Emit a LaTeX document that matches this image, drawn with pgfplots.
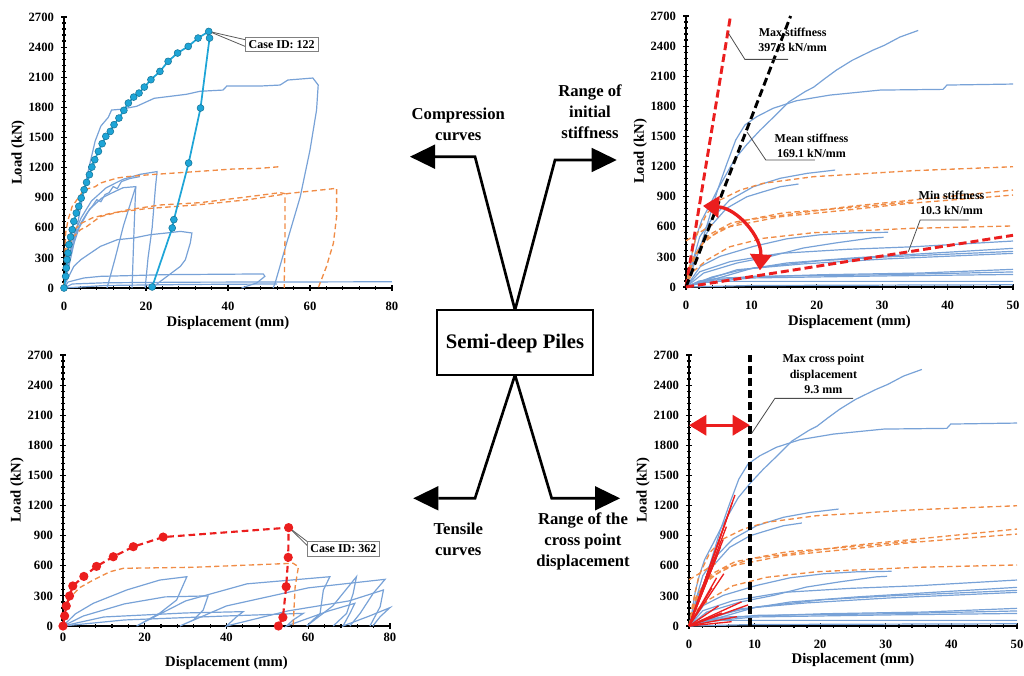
\documentclass[border=0pt]{standalone}
\usepackage{pgfplots}
\pgfplotsset{compat=1.18}
\usepackage{fontspec}
\setmainfont{Liberation Serif}
\usetikzlibrary{arrows.meta}
\definecolor{blc}{RGB}{120,162,215}
\definecolor{orc}{RGB}{240,140,70}
\definecolor{cyc}{RGB}{30,165,215}
\definecolor{rdc}{RGB}{235,30,30}
\tikzset{ann/.style={font=\bfseries\fontsize{9}{11.5}\selectfont, align=center}}
\pgfplotsset{
 myax/.style={scale only axis, height=203.25pt, ymin=0, ymax=2700, ytick={0,300,...,2700}, xmin=0,
   axis x line*=bottom, axis y line*=left, axis line style={line width=1.5pt},
   tick style={black,line width=0.9pt}, major tick length=4pt, minor tick length=3pt, tick align=center,
   minor x tick num=4, minor y tick num=4,
   ticklabel style={font=\bfseries\fontsize{9.5}{10}\selectfont},
   /pgf/number format/assume math mode=true, /pgf/number format/1000 sep={},
   xlabel={Displacement (mm)}, ylabel={Load (kN)},
   label style={font=\bfseries\fontsize{11}{12}\selectfont},
   ylabel style={at={(axis description cs:-0.14,0.5)},anchor=center},
   yticklabel style={xshift=-2pt},
   clip=false},
 bls/.style={color=blc, line width=0.9pt},
 ods/.style={color=orc, line width=1pt, dash pattern=on 4pt off 2.5pt},
}
\newcommand{\compcurves}{%
\addplot[bls] coordinates {(0,0)(0.4,116)(0.97,349)(1.6,508)(2.4,664)(3.6,813)(4.9,979)(6.2,1129)(7.5,1278)(9.3,1420)(11.3,1560)(13.4,1693)(15.7,1843)(18.3,1950)(19.5,1990)(21.2,2075)(23.0,2161)(25.4,2258)(28.6,2360)(30.3,2407)(32.7,2490)(35.5,2556)};
\addplot[bls] coordinates {(0,0)(1,180)(2.3,420)(3.6,700)(4.8,960)(6.2,1220)(7.6,1464)(9,1614)(10.8,1696)(13.3,1780)(16.9,1856)(22,1912)(29.7,1962)(39.3,1969)(39.9,2012)(50,2022)};
\addplot[bls] coordinates {(0,0)(1,250)(2.1,501)(4.2,700)(6.7,867)(10.3,999)(14.4,1083)(18.5,1132)(22.8,1165)};
\addplot[bls] coordinates {(0,0)(1.5,330)(3.7,601)(6.2,784)(9.3,899)(11.8,949)(14.4,999)(17.2,1026)};
\addplot[bls] coordinates {(0,0)(2.2,205)(5.2,305)(10.3,404)(15.4,480)(20.5,520)(25.6,540)(30.9,545)};
\addplot[bls] coordinates {(0,0)(2.7,139)(7.8,239)(12.9,305)(17.9,388)(23,440)(28.6,490)(30.2,495)};
\addplot[bls] coordinates {(0,0)(2.1,152)(6.7,252)(14.4,335)(24.6,375)(34.8,401)(50,458)};
\addplot[bls] coordinates {(0,0)(4,100)(7.8,160)(15.4,239)(25.6,290)(35.8,330)(50,385)};
\addplot[bls] coordinates {(0,0)(5,90)(10.3,190)(20.5,262)(30.7,300)(50,355)};
\addplot[bls] coordinates {(0,0)(3,70)(7.8,172)(17.9,230)(30.7,280)(50,335)};
\addplot[bls] coordinates {(0,0)(2,60)(5.2,89)(20.5,122)(35.8,139)(50,176)};
\addplot[bls] coordinates {(0,0)(3,60)(10.3,106)(30.7,122)(50,150)};
\addplot[bls] coordinates {(0,0)(2,40)(10,90)(30,110)(50,125)};
\addplot[bls] coordinates {(0,0)(2,40)(5,56)(50,56)};
\addplot[bls] coordinates {(0,0)(10,15)(50,22)};
\addplot[ods] coordinates {(0,0)(0.5,200)(1.5,500)(3.2,734)(5.2,867)(8.3,966)(11.8,1033)(19.5,1099)(34.8,1159)(50,1198)};
\addplot[ods] coordinates {(0,0)(1,250)(2.5,430)(5.2,568)(9.3,667)(16.9,734)(24.6,800)(34.8,867)(43,920)(50,966)};
\addplot[ods] coordinates {(0,0)(1,280)(3,480)(6.7,601)(14.4,700)(24.6,767)(34.3,834)(50,916)};
\addplot[ods] coordinates {(0,0)(1.2,300)(3.5,520)(7,640)(15,740)(25,790)(35,850)};
\addplot[ods] coordinates {(0,0)(1,150)(3.2,269)(6.7,401)(11.8,485)(19.5,541)(34.8,585)(50,608)};
\addplot[ods] coordinates {(0,460)(2,540)(4.5,640)};
}
\begin{document}
\begin{tikzpicture}[x=0.75pt,y=0.75pt]
\path[use as bounding box] (0,0) rectangle (1024,675);

% ---------- top left: compression curves
\begin{axis}[myax, at={(48pt,290.25pt)}, anchor=south west, width=246pt, xmax=80, xtick={0,20,...,80},
  xticklabel style={yshift=-5pt}, xlabel style={at={(axis description cs:0.5,-0.13)},anchor=center}]
\addplot[bls] coordinates {(0,0)(1,180)(2.3,420)(3.6,700)(4.8,960)(6.2,1220)(7.6,1464)(9,1614)(10.8,1700)(11.6,1773)(13.7,1780)(17.7,1810)(22,1890)(29.9,1930)(33.2,1960)(38.8,1972)(39.7,2012)(47.8,2012)(52.7,2022)(54.6,2072)(60.7,2092)(62,2022)(61.6,1773)(60,1374)(57.6,906)(54.3,448)(51.5,50)(51,0)};
\addplot[bls] coordinates {(0,0)(1,60)(4.9,100)(8.9,116)(25,133)(48.6,140)(49,116)(47,50)(43.3,0)};
\addplot[bls] coordinates {(0,0)(2,40)(10,52)(30,58)(80,62)};
\addplot[bls] coordinates {(0,0)(10,25)(30,35)(52,40)};
\addplot[bls] coordinates {(0,0)(0.5,60)(2.4,216)(4.1,282)(6.5,349)(8.9,415)(13,481)(17,498)(21,531)(25,548)(28.4,564)(31.2,548)(30.8,448)(29.6,282)(28.4,216)(23.5,66)(21.5,0)};
\addplot[bls] coordinates {(0,0)(1,250)(2.1,501)(4.2,700)(6.7,867)(10.3,999)(14.4,1083)(18.5,1132)(22.7,1160)(22.3,1000)(21.5,600)(20.5,300)(19.8,0)};
\addplot[bls] coordinates {(0,0)(1.5,330)(3.7,601)(6.2,784)(9.3,899)(11.8,949)(14.4,999)(17.5,1010)(17.1,600)(16.6,0)};
\addplot[bls] coordinates {(10.5,0)(12.5,300)(14.5,620)(17.5,1010)};
\addplot[bls] coordinates {(0,0)(1,280)(2.5,500)(4,640)(5.5,740)(7,820)(8,880)(9,860)(10,930)(11,950)(12,1010)(13,990)(14,1060)(16,1090)(18.5,1110)};
\addplot[ods] coordinates {(0,0)(0.2,300)(0.4,548)(1,680)(2,813)(4.9,979)(7.6,1009)(8.9,1046)(13,1096)(15.3,1109)(21,1129)(33,1162)(41,1185)(47.8,1192)(53,1210)};
\addplot[ods] coordinates {(0,0)(0.5,350)(2,500)(4,580)(5.5,611)(8.8,710)(15.3,777)(23.4,827)(33.2,850)(48,925)(52.7,950)(53.9,940)(53.9,500)(53.7,0)};
\addplot[ods] coordinates {(0,0)(0.5,400)(2,560)(4,640)(7,700)(12,750)(20,790)(33,830)(45,880)(55,943)(66.5,993)(66.5,714)(65.7,445)(64,212)(62,0)};
\addplot[color=cyc, line width=1.3pt, mark=*, mark size=2.6pt, mark options={fill=cyc, draw=cyc!70!black, line width=0.4pt}] coordinates {(0,0)(0.4,116)(0.57,199)(0.73,282)(0.97,349)(1.2,432)(1.6,508)(2.0,581)(2.4,664)(3.0,747)(3.6,813)(4.2,896)(4.9,979)(5.5,1052)(6.2,1129)(6.8,1205)(7.5,1278)(8.4,1361)(9.3,1438)(10.2,1511)(11.3,1560)(12.2,1627)(13.4,1693)(14.6,1770)(15.7,1843)(17.0,1902)(18.3,1942)(19.6,2002)(21.2,2075)(23.4,2158)(25.4,2258)(27.7,2341)(30.3,2407)(32.7,2490)(35.3,2556)(35.5,2490)(33.3,1793)(30.4,1245)(26.8,681)(26.4,598)(21.5,10)};
\draw[black!65, line width=0.6pt] (axis cs:35.4,2556) -- (axis cs:44.6,2470);
\draw[black!65, line width=0.6pt] (axis cs:35.4,2556) -- (axis cs:44.6,2400);
\node[draw=black!50, fill=white, line width=0.6pt, inner sep=2.5pt, font=\bfseries\fontsize{9}{10}\selectfont] at (axis cs:53.1,2427) {Case ID: 122};
\end{axis}

% ---------- top right: initial stiffness
\begin{axis}[myax, at={(514.5pt,291pt)}, anchor=south west, width=245.25pt, xmax=50, xtick={0,10,...,50},
  xticklabel style={yshift=-5pt}, xlabel style={at={(axis description cs:0.5,-0.13)},anchor=center}]
\compcurves
\addplot[rdc, line width=2.2pt, dash pattern=on 6pt off 3pt] coordinates {(0,0)(6.8,2700)};
\addplot[black, line width=2.2pt, dash pattern=on 6pt off 3pt] coordinates {(0,0)(16.0,2700)};
\addplot[rdc, line width=2.2pt, dash pattern=on 6pt off 3pt] coordinates {(0,0)(50,515)};
\draw[black!70, line width=0.6pt] (axis cs:6.5,2527) -- (axis cs:9.0,2268) -- (axis cs:15.6,2268);
\draw[black!70, line width=0.6pt] (axis cs:9.3,1547) -- (axis cs:12.2,1265) -- (axis cs:19.7,1265);
\draw[black!70, line width=0.6pt] (axis cs:34,352) -- (axis cs:35.8,667) -- (axis cs:43.2,667);
\node[ann] at (axis cs:16.3,2460) {Max stiffness\\397.3 kN/mm};
\node[ann] at (axis cs:19.2,1409) {Mean stiffness\\169.1 kN/mm};
\node[ann] at (axis cs:40.6,838) {Min stiffness\\10.3 kN/mm};
\draw[rdc, line width=2.5pt, {Triangle[length=12pt,width=16pt]}-{Triangle[length=12pt,width=16pt]}] (axis cs:11.3,166) to[bend right=45] (axis cs:2.6,808);
\end{axis}

% ---------- bottom left: tensile curves
\begin{axis}[myax, at={(47.25pt,36.75pt)}, anchor=south west, width=245.25pt, xmax=80, xtick={0,20,...,80},
  xlabel style={at={(axis description cs:0.5,-0.137)},anchor=center}]
\addplot[bls] coordinates {(0,0)(3,120)(7.4,226)(15.6,359)(23.7,458)(30.3,491)(27.8,259)(23.7,129)(18,0)(30,250)(45,420)(65.3,491)(63.7,359)(62.9,126)(59.6,0)(66,200)(71.8,491)(71,326)(69.4,126)(66.1,0)};
\addplot[bls] coordinates {(0,0)(5,100)(15,220)(25,290)(35.5,300)(34.3,159)(31.9,60)(28.6,0)(40,200)(60,380)(78.8,465)(75.9,326)(72.7,126)(70.2,0)};
\addplot[bls] coordinates {(0,0)(10,90)(30,130)(44.1,143)(42.5,93)(40,0)(55,150)(70,250)(78.4,359)(77.6,193)(75.1,0)};
\addplot[bls] coordinates {(0,0)(15,60)(40,100)(58.8,126)(56.3,60)(54.7,0)(65,150)(71.4,226)(70.2,126)(68.5,0)(75,100)(80,183)(77.6,93)(75.8,0)};
\addplot[ods] coordinates {(0,0)(0.5,120)(1.7,280)(4,380)(7.4,458)(11.5,541)(14.8,575)(31.9,585)(56.3,625)(57.6,591)(56.8,392)(56.3,0)};
\addplot[color=rdc, line width=1.6pt, dash pattern=on 5pt off 3pt, mark=*, mark size=2.6pt, mark options={solid, fill=rdc}] coordinates {(0,0)(0.4,100)(0.8,199)(1.6,299)(2.4,399)(5.1,494)(8.2,594)(12.3,690)(17.2,790)(24.5,886)(55.2,980)(55.1,684)(54.6,392)(53.8,86)(52.7,0)};
\draw[black!65, line width=0.6pt] (axis cs:55.3,980) -- (axis cs:59.8,840);
\draw[black!65, line width=0.6pt] (axis cs:55.3,980) -- (axis cs:59.8,800);
\node[draw=black!50, fill=white, line width=0.6pt, inner sep=2.5pt, font=\bfseries\fontsize{9}{10}\selectfont] at (axis cs:68.6,770) {Case ID: 362};
\end{axis}

% ---------- bottom right: cross point displacement
\begin{axis}[myax, at={(516.75pt,36.75pt)}, anchor=south west, width=246pt, xmax=50, xtick={0,10,...,50},
  xticklabel style={yshift=-5pt}, xlabel style={at={(axis description cs:0.5,-0.125)},anchor=center}]
\compcurves
\addplot[rdc, line width=1pt] coordinates {(0,0)(7.0,1305)};
\addplot[rdc, line width=1pt] coordinates {(0,0)(6.6,1230)};
\addplot[rdc, line width=1pt] coordinates {(0,0)(6.2,1150)};
\addplot[rdc, line width=1pt] coordinates {(0,0)(5.7,990)};
\addplot[rdc, line width=1pt] coordinates {(0,0)(5.2,860)};
\addplot[rdc, line width=1pt] coordinates {(0,0)(4.8,790)};
\addplot[rdc, line width=1pt] coordinates {(0,0)(4.4,720)};
\addplot[rdc, line width=1pt] coordinates {(0,0)(5.3,520)};
\addplot[rdc, line width=1pt] coordinates {(0,0)(4.2,480)};
\addplot[rdc, line width=1pt] coordinates {(0,0)(3.5,380)};
\addplot[rdc, line width=1pt] coordinates {(0,0)(8.0,240)};
\addplot[rdc, line width=1pt] coordinates {(0,0)(9.0,210)};
\addplot[rdc, line width=1pt] coordinates {(0,0)(4.5,200)};
\addplot[rdc, line width=1pt] coordinates {(0,0)(7.3,93)};
\addplot[rdc, line width=1pt] coordinates {(0,0)(6.5,43)};
\addplot[rdc, line width=1pt] coordinates {(0,0)(5,130)};
\addplot[black, line width=3pt, dash pattern=on 6pt off 3pt] coordinates {(9.3,0)(9.3,2700)};
\draw[rdc, line width=2.5pt, {Triangle[length=13pt,width=15pt]}-{Triangle[length=13pt,width=15pt]}] (axis cs:0,2000) -- (axis cs:9.3,2000);
\draw[black!70, line width=0.6pt] (axis cs:9.55,1919) -- (axis cs:13.1,2268) -- (axis cs:25,2268);
\node[ann] at (axis cs:20.5,2510) {Max cross point\\displacement\\9.3 mm};
\end{axis}

% ---------- central diagram
\draw[line width=2pt] (435,518.3) -- (475,518.3) -- (515,365) -- (555,515) -- (592,515);
\fill (435,530.5) -- (410,518.3) -- (435,506.1) -- cycle;
\fill (591.7,527.2) -- (616.7,515) -- (591.7,502.8) -- cycle;
\draw[line width=2pt] (438.3,176.7) -- (475,176.7) -- (515,300) -- (551.7,176.7) -- (595,176.7);
\fill (438.3,188.9) -- (413.3,176.7) -- (438.3,164.5) -- cycle;
\fill (595,188.9) -- (620,176.7) -- (595,164.5) -- cycle;
\draw[line width=1.6pt, fill=white] (436.7,300) rectangle (593.3,365);
\node[font=\bfseries\fontsize{15.5}{18}\selectfont] at (515,331.7) {Semi-deep Piles};
\node[align=center, font=\bfseries\fontsize{12.5}{15.75}\selectfont] at (458.3,551) {Compression\\curves};
\node[align=center, font=\bfseries\fontsize{12.5}{15.75}\selectfont] at (590,563.3) {Range of\\initial\\stiffness};
\node[align=center, font=\bfseries\fontsize{12.5}{15.75}\selectfont] at (458.3,136) {Tensile\\curves};
\node[align=center, font=\bfseries\fontsize{12.5}{15.75}\selectfont] at (583,134) {Range of the\\cross point\\displacement};
\end{tikzpicture}
\end{document}
